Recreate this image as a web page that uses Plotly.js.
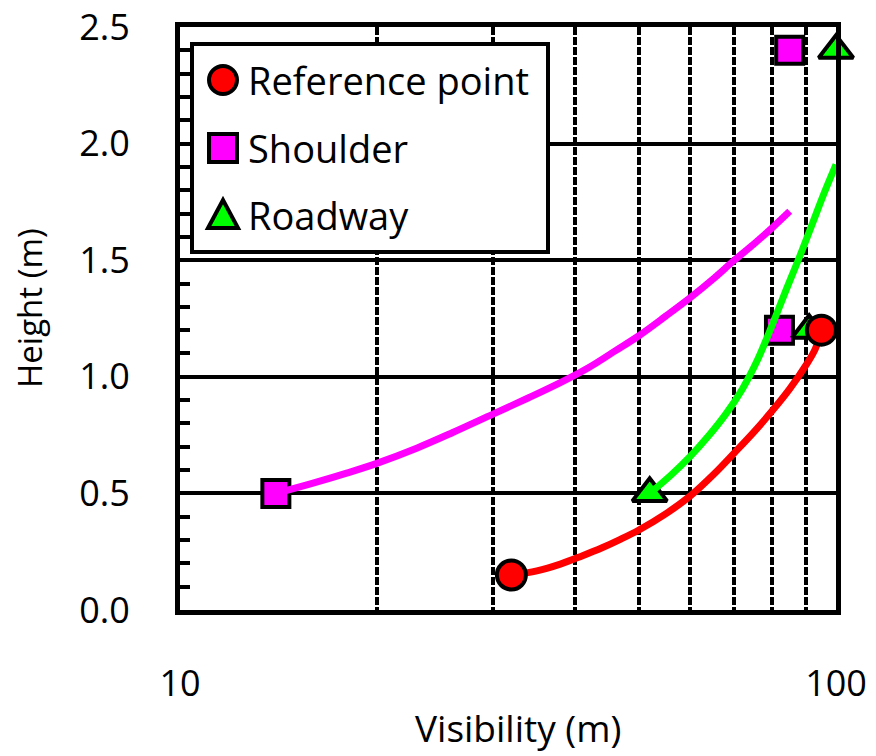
<!DOCTYPE html>
<html>
<head>
<meta charset="utf-8">
<script src="https://cdn.plot.ly/plotly-3.0.1.min.js"></script>
<style>
html,body{margin:0;padding:0;background:#fff;}
#chart{width:876px;height:756px;}
</style>
</head>
<body>
<div id="chart"></div>
<script>
// Series names
const seriesNames = ["Reference point", "Shoulder", "Roadway"];
const xTitle = "Visibility (m)";
const yTitle = "Height (m)";

// Measured points
const refX = [32, 95];
const refY = [0.15, 1.2];
const shoulderX = [14, 82, 85];
const shoulderY = [0.5, 1.2, 2.4];
const roadX = [52, 91, 100];
const roadY = [0.5, 1.2, 2.4];

// Fitted curves
const refCurveX = [32, 35, 38, 41, 44, 47, 50, 55, 60, 65, 70, 75, 80, 85, 90, 93, 95];
const refCurveY = [0.15, 0.168, 0.197, 0.232, 0.267, 0.304, 0.342, 0.412, 0.49, 0.58, 0.674, 0.764, 0.855, 0.948, 1.05, 1.12, 1.2];
const shoulderCurveX = [14, 16, 18, 20, 23, 26, 30, 34, 38, 42, 46, 50, 55, 60, 65, 70, 75, 80, 85];
const shoulderCurveY = [0.5, 0.545, 0.588, 0.63, 0.695, 0.76, 0.84, 0.91, 0.975, 1.04, 1.11, 1.175, 1.26, 1.34, 1.42, 1.5, 1.57, 1.64, 1.71];
const roadCurveX = [52, 56, 60, 64, 68, 72, 76, 80, 84, 88, 92, 96, 100];
const roadCurveY = [0.5, 0.578, 0.66, 0.748, 0.842, 0.948, 1.075, 1.225, 1.375, 1.515, 1.655, 1.79, 1.91];

// Axis ticks
const xTickVals = [10, 100];
const xTickText = ["10", "100"];

const RED = "#ff0000", MAG = "#ff00ff", GRN = "#00ff00";
const FONT = "'Open Sans', Lato, sans-serif";

const traces = [
  {x: shoulderX, y: shoulderY, mode: "markers", type: "scatter", name: seriesNames[1], showlegend: false, cliponaxis: false,
   marker: {symbol: "square", size: 27, color: MAG, line: {color: "black", width: 4}}},
  {x: roadX, y: roadY, mode: "markers", type: "scatter", name: seriesNames[2], showlegend: false, cliponaxis: false,
   marker: {symbol: "triangle-up", size: 30, color: GRN, line: {color: "black", width: 4}}},
  {x: roadCurveX, y: roadCurveY, mode: "lines", type: "scatter", showlegend: false, cliponaxis: false,
   line: {color: GRN, width: 7, shape: "spline", smoothing: 1}},
  {x: shoulderCurveX, y: shoulderCurveY, mode: "lines", type: "scatter", showlegend: false, cliponaxis: false,
   line: {color: MAG, width: 7, shape: "spline", smoothing: 1}},
  {x: refCurveX, y: refCurveY, mode: "lines", type: "scatter", showlegend: false, cliponaxis: false,
   line: {color: RED, width: 7, shape: "spline", smoothing: 1}},
  {x: refX, y: refY, mode: "markers", type: "scatter", name: seriesNames[0], showlegend: false, cliponaxis: false,
   marker: {symbol: "circle", size: 29, color: RED, line: {color: "black", width: 4}}}
];

// Custom legend and titles (paper coordinates)
const L = 180, T = 27, W = 656, H = 583;
const px = v => (v - L) / W;
const py = v => (T + H - v) / H;
const symCx = 223, symHalf = 14;
const rowsY = [80, 148, 215];
const shapes = [
  {type: "rect", xref: "paper", yref: "paper", x0: px(192), x1: px(548), y0: py(252), y1: py(44),
   fillcolor: "white", line: {color: "black", width: 4}, layer: "above"},
  {type: "circle", xref: "paper", yref: "paper", x0: px(symCx - symHalf), x1: px(symCx + symHalf),
   y0: py(rowsY[0] + symHalf), y1: py(rowsY[0] - symHalf), fillcolor: RED, line: {color: "black", width: 4}, layer: "above"},
  {type: "rect", xref: "paper", yref: "paper", x0: px(symCx - symHalf), x1: px(symCx + symHalf),
   y0: py(rowsY[1] + symHalf), y1: py(rowsY[1] - symHalf), fillcolor: MAG, line: {color: "black", width: 4}, layer: "above"},
  {type: "path", xref: "paper", yref: "paper",
   path: "M " + px(symCx - symHalf - 1) + "," + py(rowsY[2] + symHalf - 1) + " L " + px(symCx + symHalf + 1) + "," + py(rowsY[2] + symHalf - 1) +
         " L " + px(symCx) + "," + py(rowsY[2] - symHalf - 1) + " Z",
   fillcolor: GRN, line: {color: "black", width: 4}, layer: "above"}
];
const annotations = seriesNames.map((n, i) => ({
  xref: "paper", yref: "paper", x: px(246), y: py(rowsY[i]), xanchor: "left", yanchor: "middle",
  text: n, showarrow: false, font: {family: FONT, size: 38, color: "black"}
}));
annotations.push({
  xref: "paper", yref: "paper", x: px(518), y: py(727), xanchor: "center", yanchor: "middle",
  text: xTitle, showarrow: false, font: {family: FONT, size: 37, color: "black"}
});
annotations.push({
  xref: "paper", yref: "paper", x: px(29), y: py(308), xanchor: "center", yanchor: "middle", textangle: -90,
  text: yTitle, showarrow: false, font: {family: FONT, size: 33, color: "black"}
});

const layout = {
  width: 876, height: 756,
  margin: {l: L, r: 876 - L - W, t: T, b: 756 - T - H},
  paper_bgcolor: "white", plot_bgcolor: "white",
  showlegend: false,
  font: {family: FONT, color: "black", size: 36},
  xaxis: {
    type: "log", range: [1, 2],
    tickvals: xTickVals, ticktext: xTickText,
    ticks: "", ticklabelstandoff: 38,
    tickfont: {family: FONT, size: 36, color: "black"},
    showgrid: false, zeroline: false,
    showline: true, linecolor: "black", linewidth: 5, mirror: true,
    minor: {dtick: "D1", showgrid: true, gridcolor: "black", gridwidth: 4, griddash: "8px,2px", ticks: ""}
  },
  yaxis: {
    range: [0, 2.5], dtick: 0.5, tick0: 0, tickformat: ".1f",
    ticks: "inside", ticklen: 10, tickwidth: 4, tickcolor: "black",
    ticklabelstandoff: 38,
    tickfont: {family: FONT, size: 36, color: "black"},
    showgrid: true, gridcolor: "black", gridwidth: 4, zeroline: false,
    showline: true, linecolor: "black", linewidth: 5, mirror: true,
    minor: {dtick: 0.1, ticks: "inside", ticklen: 10, tickwidth: 4, tickcolor: "black", showgrid: false}
  },
  shapes: shapes,
  annotations: annotations
};

Plotly.newPlot("chart", traces, layout, {displayModeBar: false, staticPlot: true});
</script>
</body>
</html>
